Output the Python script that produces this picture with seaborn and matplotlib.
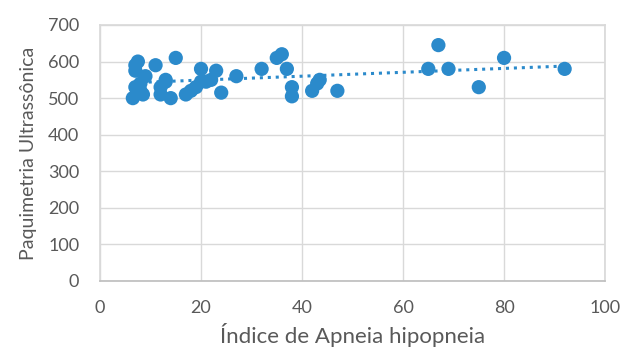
import numpy as np
import pandas as pd
import matplotlib
matplotlib.use('Agg')
import matplotlib.pyplot as plt
import seaborn as sns

# Índice de Apneia hipopneia vs Paquimetria Ultrassônica
iah = [6.5, 7, 7.5, 7, 8, 8, 9, 8.5, 7,
       11, 12, 12, 13, 14, 15, 13,
       17, 18, 19, 20, 20, 21, 22, 23, 24, 27,
       32, 35, 36, 37, 38, 38,
       42, 43, 43.5, 47,
       65, 67, 69, 75, 80, 92]
paquimetria = [500, 590, 600, 575, 540, 520, 560, 510, 530,
               590, 510, 530, 545, 500, 610, 550,
               510, 520, 530, 580, 545, 545, 550, 575, 515, 560,
               580, 610, 620, 580, 530, 505,
               520, 540, 550, 520,
               580, 645, 580, 530, 610, 580]

x_ticks = [0, 20, 40, 60, 80, 100]
y_ticks = [0, 100, 200, 300, 400, 500, 600, 700]

df = pd.DataFrame({'iah': iah, 'paq': paquimetria})

sns.set_theme(style="white")
plt.rcParams['font.family'] = ['Lato', 'DejaVu Sans']

blue = '#2B8ACB'
text_gray = '#595959'
grid_gray = '#D9D9D9'

fig = plt.figure(figsize=(6.27, 3.56), dpi=100)
ax = fig.add_axes([0.1595, 0.2107, 0.8055, 0.7191])

sns.scatterplot(data=df, x='iah', y='paq', color=blue, s=105,
                edgecolor='none', ax=ax, zorder=3)

# linear trend line (dotted), like Excel
coef = np.polyfit(df['iah'], df['paq'], 1)
xs = np.array([df['iah'].min(), df['iah'].max()])
ax.plot(xs, np.polyval(coef, xs), linestyle=(0, (1, 1.6)), color=blue,
        linewidth=2.2, zorder=2)

ax.set_xlim(0, 100)
ax.set_ylim(0, 700)
ax.set_xticks(x_ticks)
ax.set_yticks(y_ticks)
ax.grid(True, color=grid_gray, linewidth=1)
ax.set_axisbelow(True)
for side in ['top', 'right', 'left']:
    ax.spines[side].set_color(grid_gray)
ax.spines['bottom'].set_color('#BFBFBF')

ax.tick_params(axis='both', length=0, labelsize=13, colors=text_gray)
ax.tick_params(axis='x', pad=14)
ax.tick_params(axis='y', pad=15)
ax.set_xlabel('Índice de Apneia hipopneia', fontsize=16, color=text_gray, labelpad=5)
ax.set_ylabel('Paquimetria Ultrassônica', fontsize=14, color=text_gray, labelpad=8)

fig.savefig('out.png', dpi=100)
